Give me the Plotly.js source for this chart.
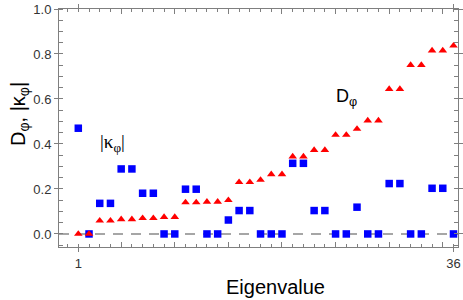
<!DOCTYPE html>
<html>
<head>
<meta charset="utf-8">
<script src="https://cdn.plot.ly/plotly-3.0.1.min.js"></script>
<style>html,body{margin:0;padding:0;background:#fff;}#chart{width:463px;height:300px;}</style>
</head>
<body>
<div id="chart"></div>
<script>
// Eigenvalue index
const eigenIndex = [1,2,3,4,5,6,7,8,9,10,11,12,13,14,15,16,17,18,19,20,21,22,23,24,25,26,27,28,29,30,31,32,33,34,35,36];
// D_phi (red triangles)
const dPhi = [0,0,0.059,0.059,0.065,0.065,0.07,0.07,0.075,0.075,0.14,0.14,0.143,0.143,0.15,0.23,0.23,0.24,0.265,0.265,0.344,0.344,0.373,0.373,0.44,0.44,0.467,0.504,0.504,0.644,0.644,0.751,0.751,0.815,0.815,0.837];
// |kappa_phi| (blue squares)
const kappaPhi = [0.47,0,0.136,0.136,0.289,0.289,0.181,0.181,0,0,0.199,0.199,0,0,0.062,0.104,0.104,0,0,0,0.314,0.314,0.104,0.104,0,0,0.119,0,0,0.224,0.224,0,0,0.203,0.203,0];
const xTickVals = [1,36];
const xTickText = ['1','36'];
const yTickVals = [0,0.2,0.4,0.6,0.8,1.0];
const yTickText = ['0.0','0.2','0.4','0.6','0.8','1.0'];
const xMidTicks = [5,10,15,20,25,30,35];

const frame = '#7f7f7f';
const tickFont = {family:'Liberation Sans, Arial, sans-serif', size:13, color:'#333'};

const traces = [
  {x:eigenIndex, y:kappaPhi, type:'scatter', mode:'markers', marker:{symbol:'square', size:7.5, color:'#0000ff'}, hoverinfo:'skip'},
  {x:eigenIndex, y:dPhi, type:'scatter', mode:'markers', marker:{symbol:'triangle-up', size:7.5, color:'#ff0000'}, hoverinfo:'skip'},
  {x:xMidTicks, y:xMidTicks.map(()=>null), xaxis:'x2', type:'scatter', mode:'markers', showlegend:false, hoverinfo:'skip'}
];

const px = p => (p-59)/399;
const py = p => (247-p)/238;

const layout = {
  width:463, height:300,
  margin:{l:59, r:5, t:9, b:53},
  paper_bgcolor:'#fff', plot_bgcolor:'#fff',
  showlegend:false,
  xaxis:{
    range:[-0.8,36.42], showgrid:false, zeroline:false,
    showline:true, linecolor:frame, linewidth:1, mirror:'allticks',
    tickmode:'array', tickvals:xTickVals, ticktext:xTickText,
    ticks:'outside', ticklen:4, tickcolor:frame, tickfont:tickFont,
    minor:{dtick:1, tick0:0, ticks:'inside', ticklen:3, tickcolor:frame}
  },
  xaxis2:{
    overlaying:'x', matches:'x', range:[-0.8,36.42], showgrid:false, zeroline:false,
    showline:false, mirror:'allticks', tickmode:'array', tickvals:xMidTicks,
    ticks:'inside', ticklen:5, tickcolor:frame, showticklabels:false
  },
  yaxis:{
    range:[-0.058,1.0], showgrid:false, zeroline:false,
    showline:true, linecolor:frame, linewidth:1, mirror:'allticks',
    tickmode:'array', tickvals:yTickVals, ticktext:yTickText,
    ticks:'outside', ticklen:4, tickcolor:frame, tickfont:tickFont,
    minor:{dtick:0.05, tick0:0, ticks:'inside', ticklen:3, tickcolor:frame}
  },
  shapes:[{type:'line', xref:'paper', x0:0, x1:1, yref:'y', y0:0, y1:0, layer:'below',
    line:{color:'#a6a6a6', width:2, dash:'10px,8px'}}],
  annotations:[
    {text:'Eigenvalue', xref:'paper', yref:'paper', x:px(275), y:py(287), xanchor:'center', yanchor:'middle', showarrow:false,
      font:{family:'Liberation Sans, Arial, sans-serif', size:20, color:'#000'}},
    {text:'D<sub>φ</sub>, |κ<sub>φ</sub>|', xref:'paper', yref:'paper', x:px(19), y:py(114), xanchor:'center', yanchor:'middle', textangle:-90, showarrow:false,
      font:{family:'Liberation Sans, Arial, sans-serif', size:20, color:'#000'}},
    {text:'D<sub>φ</sub>', xref:'paper', yref:'paper', x:px(346), y:py(97), xanchor:'center', yanchor:'middle', showarrow:false,
      font:{family:'Liberation Sans, Arial, sans-serif', size:18, color:'#000'}},
    {text:'|κ<sub>φ</sub>|', xref:'paper', yref:'paper', x:px(112), y:py(143), xanchor:'center', yanchor:'middle', showarrow:false,
      font:{family:'Liberation Serif, Times New Roman, serif', size:19, color:'#000'}}
  ]
};
Plotly.newPlot('chart', traces, layout, {staticPlot:true, displayModeBar:false});
</script>
</body>
</html>
